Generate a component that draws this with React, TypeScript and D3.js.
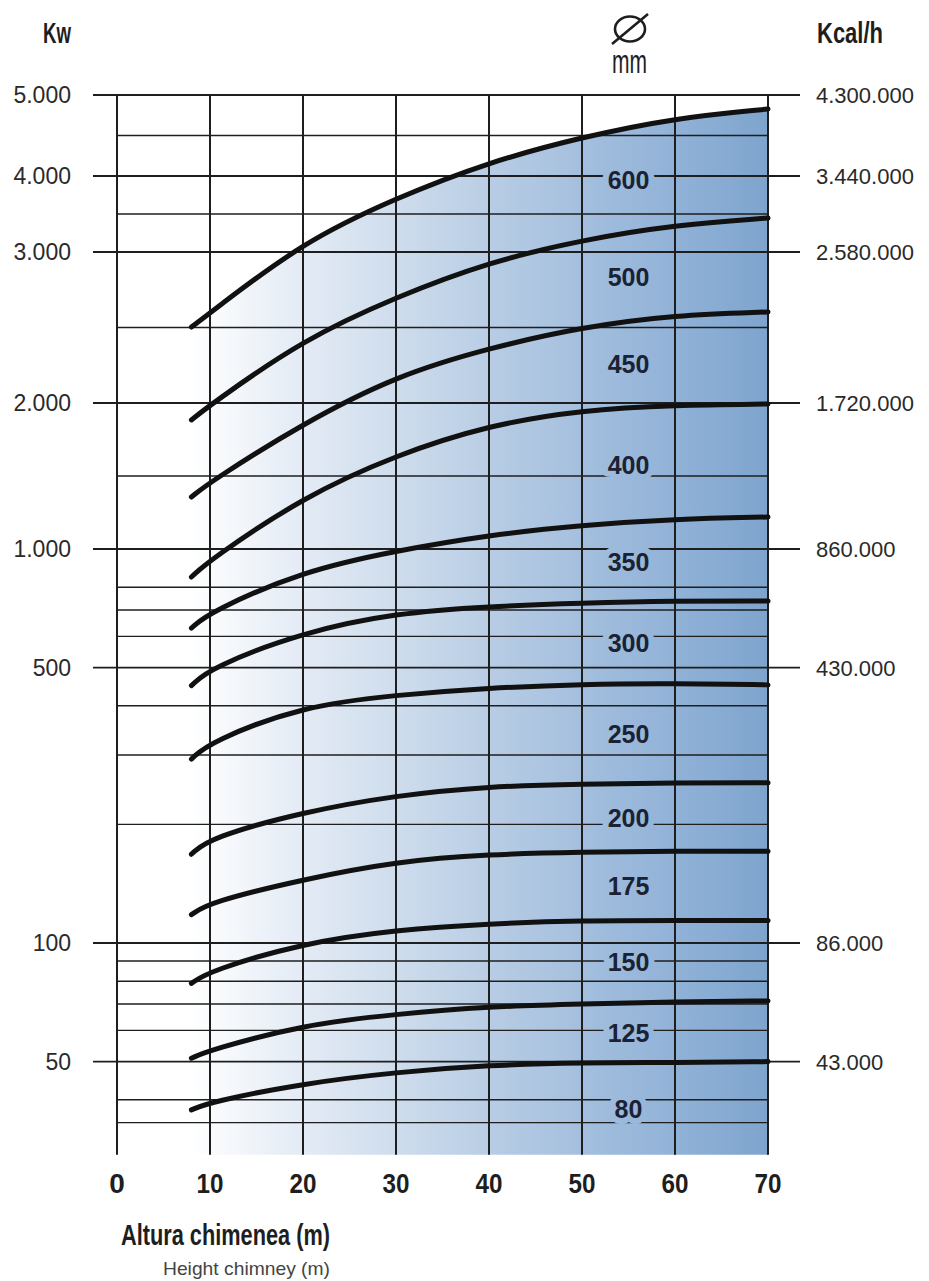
import React from "react";
import * as d3 from "d3";

// ---- data ----
const heights = [8, 10, 20, 30, 40, 50, 60, 70];
const diameters = ["600", "500", "450", "400", "350", "300", "250", "200", "175", "150", "125", "80"];
const kw600 = [2503, 2596, 3132, 3711, 4173, 4481, 4716, 4827];
const kw500 = [1884, 1986, 2420, 2702, 2934, 3158, 3355, 3447];
const kw450 = [1356, 1459, 1860, 2180, 2364, 2503, 2583, 2603];
const kw400 = [849, 938, 1356, 1644, 1849, 1952, 1986, 1993];
const kw350 = [630, 692, 880, 990, 1096, 1164, 1205, 1219];
const kw300 = [450, 499, 615, 688, 715, 729, 738, 738];
const kw250 = [293, 324, 400, 426, 444, 454, 456, 452];
const kw200 = [168, 185, 215, 237, 250, 253, 255, 255];
const kw175 = [118, 127, 145, 161, 168, 170, 171, 171];
const kw150 = [79, 85, 100, 108, 112, 114, 114, 114];
const kw125 = [51, 53.5, 62, 66, 69, 70, 71, 71.3];
const kw80 = [37.7, 39.5, 44, 47, 49, 49.7, 49.7, 50];
const series = [kw600, kw500, kw450, kw400, kw350, kw300, kw250, kw200, kw175, kw150, kw125, kw80];

const majorKw = [5000, 4000, 3000, 2000, 1000, 500, 100, 50];
const minorKw = [4500, 3500, 2500, 1500, 800, 700, 600, 400, 300, 200, 90, 80, 70, 60, 40, 35];
const xTicks = [0, 10, 20, 30, 40, 50, 60, 70];
const kcalFactor = 860;
const yMinKw = 29;
const labelAt = 55;

const locale = d3.formatLocale({ decimal: ",", thousands: ".", grouping: [3], currency: ["", ""] });
const fmt = locale.format(",d");

export default function App() {
  const x = d3.scaleLinear().domain([0, 70]).range([117, 768]);
  const yLow = d3.scaleLog().domain([100, 1000]).range([943, 549]);
  const yHigh = d3.scaleLinear().domain([1000, 2000, 3000, 4000, 5000]).range([549, 403, 252, 176, 95]);
  const y = (v: number) => (v <= 1000 ? yLow(v) : yHigh(v));
  const yBottom = y(yMinKw);
  const yTop = y(5000);

  const pts = (s: number[]) => s.map((v, i) => [heights[i], v] as [number, number]);
  const line = d3
    .line<[number, number]>()
    .x((d) => x(d[0]))
    .y((d) => y(d[1]))
    .curve(d3.curveBasis);
  const area = d3
    .area<[number, number]>()
    .x((d) => x(d[0]))
    .y0(yBottom)
    .y1((d) => y(d[1]))
    .curve(d3.curveBasis);

  // label y: midway between each curve and the next one at height=55
  const curveYAt = (s: number[]) => {
    const i = heights.indexOf(50);
    return (y(s[i]) + y(s[i + 1])) / 2;
  };
  const labelYs = series.map((s, i) => {
    const a = curveYAt(s);
    const b = i + 1 < series.length ? curveYAt(series[i + 1]) : yBottom;
    return (a + b) / 2;
  });

  const gridColor = "#1e1e1e";
  const x0 = x(0);
  const x70 = x(70);

  return (
    <svg
      width={929}
      height={1281}
      style={{ position: "absolute", left: 0, top: 0, background: "#fff" }}
      fontFamily="'Liberation Sans', Arial, sans-serif"
    >
      <defs>
        <linearGradient id="bg" gradientUnits="userSpaceOnUse" x1={x(8)} x2={x70} y1={0} y2={0}>
          <stop offset="0" stopColor="#ffffff" />
          <stop offset="0.15" stopColor="#e9eff7" />
          <stop offset="0.35" stopColor="#cfdded" />
          <stop offset="0.55" stopColor="#b4cae3" />
          <stop offset="0.75" stopColor="#9bb9db" />
          <stop offset="0.9" stopColor="#8aadd4" />
          <stop offset="1" stopColor="#7ea4cd" />
        </linearGradient>
      </defs>

      {/* gradient fill under the largest curve */}
      <path d={area(pts(kw600)) || ""} fill="url(#bg)" />

      {/* minor horizontal grid */}
      {minorKw.map((v) => (
        <line key={"mi" + v} x1={x0} x2={x70} y1={y(v)} y2={y(v)} stroke={gridColor} strokeWidth={1.4} />
      ))}
      {/* major horizontal grid */}
      {majorKw.map((v) => (
        <line key={"ma" + v} x1={93} x2={800} y1={y(v)} y2={y(v)} stroke={gridColor} strokeWidth={1.8} />
      ))}
      {/* vertical grid */}
      {xTicks.map((t) => (
        <line key={"v" + t} x1={x(t)} x2={x(t)} y1={yTop} y2={yBottom} stroke={gridColor} strokeWidth={2} />
      ))}

      {/* diameter labels */}
      {diameters.map((d, i) => (
        <text
          key={"l" + d}
          x={x(labelAt)}
          y={labelYs[i]}
          dy="0.36em"
          textAnchor="middle"
          fontSize={25}
          fontWeight="bold"
          fill="#1b2233"
          stroke="url(#bg)"
          strokeWidth={12}
          strokeLinejoin="round"
          paintOrder="stroke"
        >
          {d}
        </text>
      ))}

      {/* curves */}
      {series.map((s, i) => (
        <path
          key={"c" + i}
          d={line(pts(s)) || ""}
          fill="none"
          stroke="#111"
          strokeWidth={5}
          strokeLinecap="round"
        />
      ))}

      {/* left axis labels */}
      {majorKw.map((v) => (
        <text key={"yl" + v} x={71} y={y(v)} dy="0.36em" textAnchor="end" fontSize={23} fill="#2a2a2a">
          {fmt(v)}
        </text>
      ))}
      {/* right axis labels */}
      {majorKw.map((v) => (
        <text key={"yr" + v} x={816} y={y(v)} dy="0.36em" textAnchor="start" fontSize={22} fill="#2a2a2a">
          {fmt(v * kcalFactor)}
        </text>
      ))}
      {/* x axis labels */}
      {xTicks.map((t) => (
        <text
          key={"xl" + t}
          x={x(t)}
          y={1193}
          textAnchor="middle"
          fontSize={28}
          fontWeight="bold"
          fill="#1e1e1e"
          textLength={t === 0 ? undefined : 27}
          lengthAdjust="spacingAndGlyphs"
        >
          {t}
        </text>
      ))}

      {/* titles */}
      <text x={43} y={43} fontSize={29} fontWeight="bold" fill="#1e1e1e" textLength={28} lengthAdjust="spacingAndGlyphs">
        Kw
      </text>
      <text x={817} y={43} fontSize={29} fontWeight="bold" fill="#1e1e1e" textLength={66} lengthAdjust="spacingAndGlyphs">
        Kcal/h
      </text>
      <ellipse cx={630} cy={29} rx={15} ry={12.5} fill="none" stroke="#1e1e1e" strokeWidth={2.6} />
      <line x1={612} y1={44} x2={648} y2={14} stroke="#1e1e1e" strokeWidth={2.6} />
      <text x={612} y={73} fontSize={34} fill="#1e1e1e" textLength={35} lengthAdjust="spacingAndGlyphs">
        mm
      </text>
      <text x={121} y={1245} fontSize={30} fontWeight="bold" fill="#1e1e1e" textLength={209} lengthAdjust="spacingAndGlyphs">
        Altura chimenea (m)
      </text>
      <text x={330} y={1275} textAnchor="end" fontSize={19} fill="#444" textLength={167} lengthAdjust="spacingAndGlyphs">
        Height chimney (m)
      </text>
    </svg>
  );
}
